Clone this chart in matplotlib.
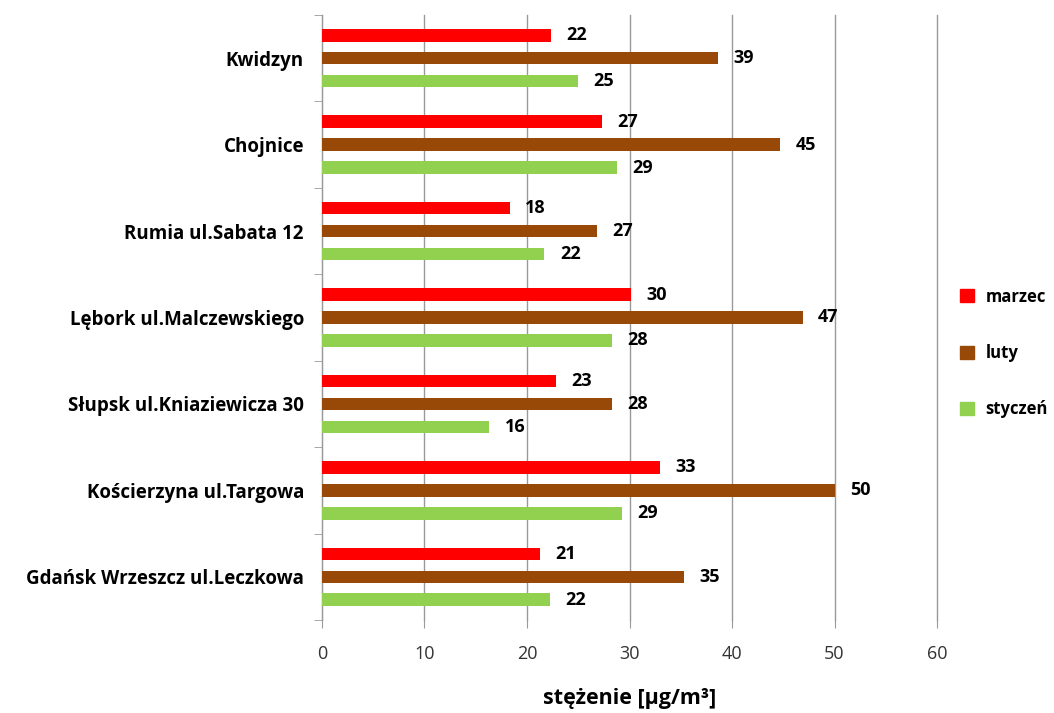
import numpy as np
import matplotlib
matplotlib.use('Agg')
import matplotlib.pyplot as plt
from matplotlib.patches import Patch

plt.rcParams['font.family'] = ['Open Sans', 'DejaVu Sans']

# ----------------------------------------
# Data (bottom to top as drawn)
# ----------------------------------------
stations = ["Gdańsk Wrzeszcz ul.Leczkowa", "Kościerzyna ul.Targowa",
            "Słupsk ul.Kniaziewicza 30", "Lębork ul.Malczewskiego",
            "Rumia ul.Sabata 12", "Chojnice", "Kwidzyn"]
marzec = [21.3, 33.0, 22.8, 30.1, 18.3, 27.3, 22.3]
luty = [35.3, 50.0, 28.3, 46.9, 26.8, 44.7, 38.6]
styczen = [22.2, 29.3, 16.3, 28.3, 21.7, 28.8, 25.0]
series_names = ["marzec", "luty", "styczeń"]
colors = ["#FF0000", "#984807", "#92D050"]
xticks = [0, 10, 20, 30, 40, 50, 60]

fig = plt.figure(figsize=(10.54, 7.13), dpi=100)
ax = fig.add_axes([0.3055, 0.1304, 0.5835, 0.8486])

y = np.arange(len(stations))
offsets = [0.265, 0.0, -0.265]
bar_h = 0.145
for vals, off, col in zip([marzec, luty, styczen], offsets, colors):
    ax.barh(y + off, vals, height=bar_h, color=col, zorder=3)
    for yi, v in zip(y, vals):
        ax.text(v + 1.5, yi + off, f"{v:.0f}", va='center', ha='left',
                fontsize=13, fontweight='bold', color='black')

ax.set_xlim(0, 60)
ax.set_ylim(-0.5, len(stations) - 0.5)
ax.set_xticks(xticks)
ax.set_xticklabels([str(t) for t in xticks], fontsize=13, color='#333333')
ax.xaxis.grid(True, color='#999999', linewidth=1, zorder=0)
for gl in ax.get_xgridlines():
    gl.set_clip_on(False)

ax.set_yticks(y)
ax.set_yticklabels(stations, fontsize=13.5, fontweight='bold')
ax.tick_params(axis='y', length=0, pad=13)
ax.set_yticks(np.arange(-0.5, len(stations) + 0.5, 1), minor=True)
ax.tick_params(axis='y', which='minor', length=6, color='#999999')
ax.tick_params(axis='x', length=6, color='#999999', pad=12)

for s in ['top', 'right', 'bottom']:
    ax.spines[s].set_visible(False)
ax.spines['left'].set_color('#999999')

ax.set_xlabel("stężenie [µg/m³]", fontsize=15.5, fontweight='bold', labelpad=18)

handles = [Patch(color=c, label=n) for c, n in zip(colors, series_names)]
fig.legend(handles=handles, loc='center left', bbox_to_anchor=(0.897, 0.505),
           frameon=False, handlelength=0.8, handleheight=0.8,
           labelspacing=2.3, handletextpad=0.7,
           prop={'weight': 'bold', 'size': 12})

fig.savefig("out.png", dpi=100)
